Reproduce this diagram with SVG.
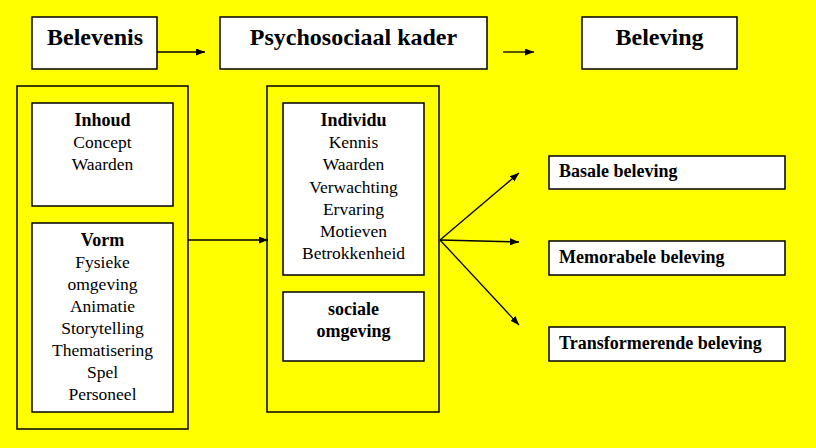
<svg xmlns="http://www.w3.org/2000/svg" width="816" height="448" viewBox="0 0 816 448" font-family="Liberation Serif, DejaVu Serif, Times New Roman, serif">
<style>
.bg{fill:#FFFF00}
.box{fill:#FFFFFF;stroke:#000;stroke-width:1.5}
.outer{fill:#FFFF00;stroke:#000;stroke-width:1.5}
text{fill:#000}
.title{font-size:24px;font-weight:bold;text-anchor:middle}
.b{font-size:18px;font-weight:bold}
.t{font-size:17.5px;text-anchor:middle}
.c{text-anchor:middle}
.conn line{stroke:#000;stroke-width:1.3;marker-end:url(#ah)}
</style>
<defs>
<marker id="ah" markerUnits="userSpaceOnUse" markerWidth="10" markerHeight="8" refX="9" refY="3.5" orient="auto">
<path d="M0,0 L9,3.5 L0,7 z" fill="#000"/>
</marker>
</defs>
<rect class="bg" x="0" y="0" width="816" height="448"/>
<g id="belevenis">
<rect class="box" x="32" y="17" width="125" height="52"/>
<text class="title" x="95" y="45">Belevenis</text>
</g>
<g id="psychosociaal-kader">
<rect class="box" x="220" y="17" width="267" height="52"/>
<text class="title" x="353.5" y="45">Psychosociaal kader</text>
</g>
<g id="beleving">
<rect class="box" x="582" y="17" width="155" height="52"/>
<text class="title" x="659.5" y="45">Beleving</text>
</g>
<g id="belevenis-kader">
<rect class="outer" x="17" y="86" width="171" height="343"/>
</g>
<g id="inhoud">
<rect class="box" x="32" y="103" width="141" height="103"/>
<text class="b c" x="102.5" y="126">Inhoud</text>
<text class="t" x="102.5" y="148">Concept</text>
<text class="t" x="102.5" y="170">Waarden</text>
</g>
<g id="vorm">
<rect class="box" x="32" y="223" width="141" height="189"/>
<text class="b c" x="102.5" y="246">Vorm</text>
<text class="t" x="102.5" y="268">Fysieke</text>
<text class="t" x="102.5" y="290">omgeving</text>
<text class="t" x="102.5" y="312">Animatie</text>
<text class="t" x="102.5" y="334">Storytelling</text>
<text class="t" x="102.5" y="356">Thematisering</text>
<text class="t" x="102.5" y="378">Spel</text>
<text class="t" x="102.5" y="400">Personeel</text>
</g>
<g id="psychosociaal-kader-blok">
<rect class="outer" x="267" y="86" width="172" height="326"/>
</g>
<g id="individu">
<rect class="box" x="283" y="103" width="141" height="172"/>
<text class="b c" x="353.5" y="126">Individu</text>
<text class="t" x="353.5" y="148">Kennis</text>
<text class="t" x="353.5" y="170">Waarden</text>
<text class="t" x="353.5" y="193">Verwachting</text>
<text class="t" x="353.5" y="215">Ervaring</text>
<text class="t" x="353.5" y="237">Motieven</text>
<text class="t" x="353.5" y="259">Betrokkenheid</text>
</g>
<g id="sociale-omgeving">
<rect class="box" x="283" y="292" width="141" height="69"/>
<text class="b c" x="353.5" y="315">sociale</text>
<text class="b c" x="353.5" y="337">omgeving</text>
</g>
<g id="basale-beleving">
<rect class="box" x="549" y="156" width="236" height="33"/>
<text class="b" x="559" y="177">Basale beleving</text>
</g>
<g id="memorabele-beleving">
<rect class="box" x="549" y="241" width="236" height="34"/>
<text class="b" x="559" y="263">Memorabele beleving</text>
</g>
<g id="transformerende-beleving">
<rect class="box" x="549" y="327" width="236" height="34"/>
<text class="b" x="559" y="349">Transformerende beleving</text>
</g>
<g id="connectors" class="conn">
<line x1="157" y1="52" x2="205" y2="52"/>
<line x1="503" y1="52" x2="534" y2="52"/>
<line x1="188" y1="240" x2="268" y2="240"/>
<line x1="440" y1="240" x2="519" y2="173"/>
<line x1="440" y1="240" x2="519" y2="242"/>
<line x1="440" y1="240" x2="519" y2="325"/>
</g>
</svg>
